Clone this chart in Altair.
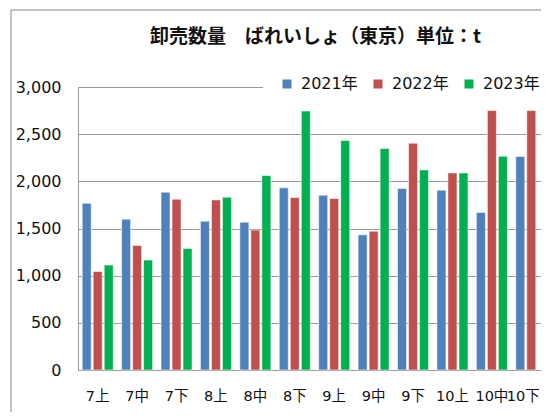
import altair as alt
import pandas as pd

categories = ["7上", "7中", "7下", "8上", "8中", "8下", "9上", "9中", "9下", "10上", "10中", "10下"]
years = ["2021年", "2022年", "2023年"]
v2021 = [1768, 1599, 1885, 1578, 1567, 1931, 1853, 1433, 1924, 1906, 1670, 2263]
v2022 = [1045, 1321, 1811, 1803, 1483, 1829, 1818, 1472, 2404, 2089, 2750, 2750]
v2023 = [1112, 1165, 1289, 1832, 2062, 2745, 2432, 2348, 2121, 2089, 2266, None]
colors = ["#4F81BD", "#C0504D", "#00B050"]
y_ticks = [0, 500, 1000, 1500, 2000, 2500, 3000]

rows = []
for year, vals in zip(years, [v2021, v2022, v2023]):
    for c, v in zip(categories, vals):
        if v is not None:
            rows.append({"cat": c, "year": year, "value": v})
df = pd.DataFrame(rows)

FONT = "DejaVu Sans, Noto Sans CJK JP"

bars = alt.Chart(df).mark_bar(stroke="white", strokeWidth=0.8, strokeOpacity=0.7).encode(
    x=alt.X("cat:N", sort=categories, title=None,
            scale=alt.Scale(paddingInner=0, paddingOuter=0, range=[0, 473]),
            axis=alt.Axis(labelAngle=0, ticks=False, domainColor="#999999", labelPadding=19,
                          labelOffset={"condition": {"test": "datum.value === '10下'", "value": -8}, "value": 0},
                          labelFont=FONT, labelFontSize=14.5, labelColor="#111111", grid=False)),
    xOffset=alt.XOffset("year:N", sort=years,
                        scale=alt.Scale(paddingInner=0.18, paddingOuter=0.38)),
    y=alt.Y("value:Q", title=None,
            scale=alt.Scale(domain=[0, 3000], nice=False),
            axis=alt.Axis(values=y_ticks, format=",.0f", ticks=False, labelPadding=17,
                          domainColor="#999999", gridColor="#999999",
                          labelFont=FONT, labelFontSize=16, labelColor="#111111")),
    color=alt.Color("year:N", sort=years, scale=alt.Scale(domain=years, range=colors),
                    legend=alt.Legend(orient="none", direction="horizontal", legendX=185, legendY=-13,
                                      title="\u00a0", titleOrient="left", titleFontSize=1, titlePadding=14,
                                      symbolType="square", symbolSize=81, symbolStrokeWidth=0,
                                      labelFont=FONT, labelFontSize=16, labelColor="#111111",
                                      labelOffset=6, columnPadding=12, padding=2,
                                      fillColor="white")),
)

frame = alt.Chart(pd.DataFrame({"a": [0]})).mark_rect(fillOpacity=0, stroke="#888888", strokeWidth=1).encode(
    x=alt.value(-67), x2=alt.value(520), y=alt.value(-77), y2=alt.value(420)
)

chart = alt.layer(frame, bars).properties(
    width=463, height=283,
    autosize=alt.AutoSizeParams(type="none"),
    padding={"left": 70, "top": 79, "right": 0, "bottom": 42},
    title=alt.TitleParams("卸売数量　ばれいしょ（東京）単位：t", anchor="start", frame="group", dx=72,
                          offset=-37, font="Noto Sans CJK JP", fontSize=19, fontWeight="bold", color="#111111"),
).configure_view(stroke=None)

chart.save("out.html", embed_options={"renderer": "svg", "actions": False})
